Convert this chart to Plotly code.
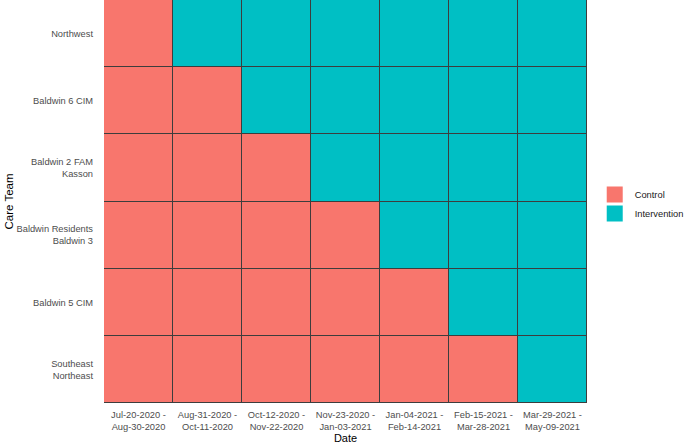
import plotly.graph_objects as go

periods = [
    "Jul-20-2020 -<br>Aug-30-2020",
    "Aug-31-2020 -<br>Oct-11-2020",
    "Oct-12-2020 -<br>Nov-22-2020",
    "Nov-23-2020 -<br>Jan-03-2021",
    "Jan-04-2021 -<br>Feb-14-2021",
    "Feb-15-2021 -<br>Mar-28-2021",
    "Mar-29-2021 -<br>May-09-2021",
]

teams = [
    "Northwest",
    "Baldwin 6 CIM",
    "Baldwin 2 FAM<br>Kasson",
    "Baldwin Residents<br>Baldwin 3",
    "Baldwin 5 CIM",
    "Southeast<br>Northeast",
]

C, I = "Control", "Intervention"
northwest = [C, I, I, I, I, I, I]
baldwin6 = [C, C, I, I, I, I, I]
baldwin2_kasson = [C, C, C, I, I, I, I]
residents_baldwin3 = [C, C, C, C, I, I, I]
baldwin5 = [C, C, C, C, C, I, I]
southeast_northeast = [C, C, C, C, C, C, I]

assignment = [northwest, baldwin6, baldwin2_kasson, residents_baldwin3,
              baldwin5, southeast_northeast]

groups = ["Control", "Intervention"]
colors = {"Control": "#F8766D", "Intervention": "#00BFC4"}

z = [[groups.index(s) for s in row] for row in assignment]
text = [[s for s in row] for row in assignment]

fig = go.Figure()
fig.add_trace(go.Heatmap(
    x=periods, y=teams, z=z, text=text,
    hovertemplate="%{y}<br>%{x}<br>%{text}<extra></extra>",
    colorscale=[[0, colors["Control"]], [0.5, colors["Control"]],
                [0.5, colors["Intervention"]], [1, colors["Intervention"]]],
    zmin=0, zmax=1, showscale=False, xgap=1, ygap=1,
))
for g in groups:
    fig.add_trace(go.Scatter(
        x=[None], y=[None], mode="markers", name=g,
        marker=dict(symbol="square", size=16, color=colors[g]),
    ))

fig.update_layout(
    width=685, height=447,
    margin=dict(l=104, r=98, t=0, b=44, autoexpand=False),
    paper_bgcolor="white",
    plot_bgcolor="#3d3d3d",
    font=dict(family="Liberation Sans, Arial, sans-serif", size=9.3, color="#4D4D4D"),
    legend=dict(x=1.016, y=0.494, xanchor="left", yanchor="middle",
                font=dict(size=9.3, color="#1a1a1a"), itemsizing="trace",
                itemwidth=30, tracegroupgap=0, bgcolor="rgba(0,0,0,0)"),
    showlegend=True,
)
fig.update_xaxes(
    title=dict(text="Date", font=dict(size=11, color="black"), standoff=0),
    showgrid=False, zeroline=False, ticks="", tickfont=dict(size=9.3, color="#4D4D4D"),
    ticklabelstandoff=5, fixedrange=True, automargin=False,
)
fig.update_yaxes(
    title=dict(text="Care Team", font=dict(size=11.5, color="black"), standoff=0),
    autorange="reversed", showgrid=False, zeroline=False, ticks="",
    tickfont=dict(size=9.3, color="#4D4D4D"), ticklabelstandoff=10,
    fixedrange=True, automargin=False,
)

fig.write_html("out.html", config={"displayModeBar": False},
               post_script="document.body.style.margin='0px';")
